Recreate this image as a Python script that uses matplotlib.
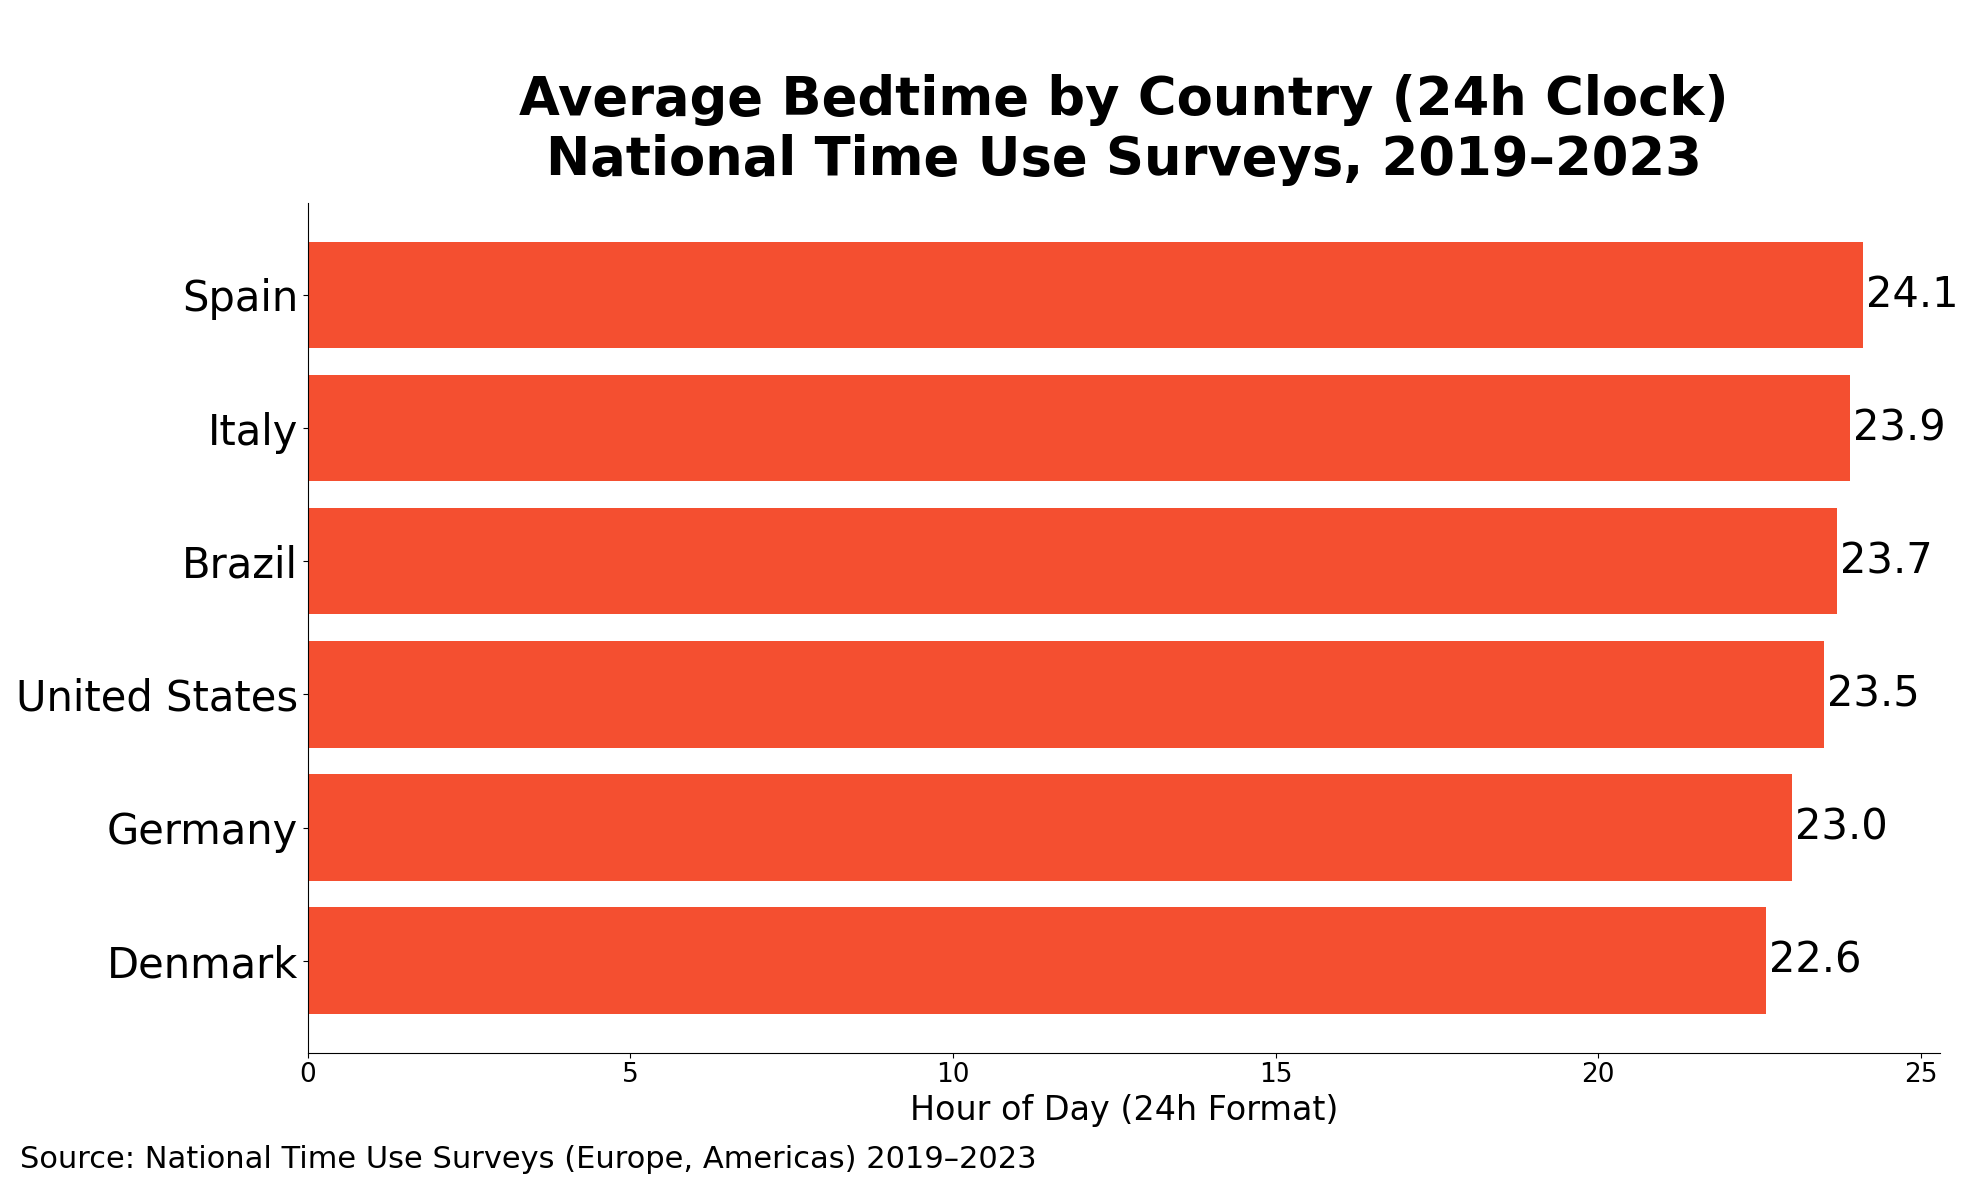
import matplotlib
matplotlib.use("Agg")
import matplotlib.pyplot as plt

countries = ["Denmark", "Germany", "United States", "Brazil", "Italy", "Spain"]
bedtimes = [22.6, 23.0, 23.5, 23.7, 23.9, 24.1]
xticks = [0, 5, 10, 15, 20, 25]

fig = plt.figure(figsize=(19.79, 11.8), dpi=100)
ax = fig.add_axes([0.1555, 0.108, 0.825, 0.720])

bars = ax.barh(countries, bedtimes, height=0.8, color="#F44F30")
for b, v in zip(bars, bedtimes):
    ax.text(b.get_width() + 0.05, b.get_y() + b.get_height() / 2, f"{v:.1f}",
            ha="left", va="center", fontsize=30)

ax.set_xticks(xticks)
ax.tick_params(axis="y", labelsize=30)
ax.tick_params(axis="x", labelsize=19)
ax.set_xlabel("Hour of Day (24h Format)", fontsize=24)
ax.spines["top"].set_visible(False)
ax.spines["right"].set_visible(False)
ax.set_title("Average Bedtime by Country (24h Clock)\nNational Time Use Surveys, 2019–2023",
             fontsize=38, fontweight="bold", pad=20)

fig.text(0.01, 0.005, "Source: National Time Use Surveys (Europe, Americas) 2019–2023",
         fontsize=22, ha="left", va="bottom")

fig.savefig("out.png", dpi=100)
